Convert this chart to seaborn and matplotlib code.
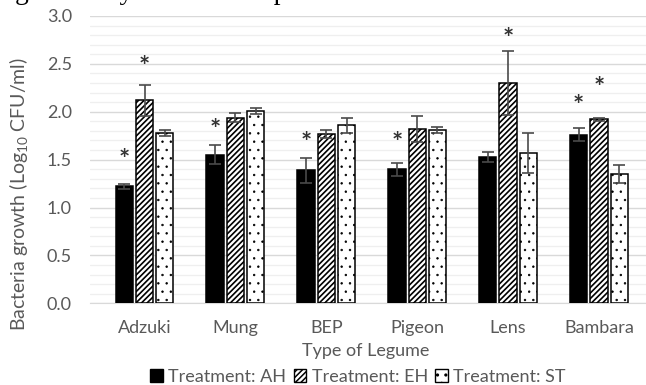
import matplotlib.pyplot as plt
import matplotlib as mpl
import numpy as np
import pandas as pd
import seaborn as sns
from matplotlib.patches import Patch

legumes = ['Adzuki', 'Mung', 'BEP', 'Pigeon', 'Lens', 'Bambara']
treatments = ['Treatment: AH', 'Treatment: EH', 'Treatment: ST']

# mean growth (log10 CFU/ml) per legume
ah = [1.22, 1.55, 1.39, 1.40, 1.53, 1.76]
eh = [2.12, 1.94, 1.77, 1.82, 2.30, 1.92]
st = [1.78, 2.01, 1.86, 1.81, 1.57, 1.35]

# error bar half widths
ah_err = [0.03, 0.10, 0.13, 0.07, 0.05, 0.07]
eh_err = [0.16, 0.05, 0.04, 0.14, 0.33, 0.02]
st_err = [0.03, 0.03, 0.08, 0.03, 0.21, 0.09]

# asterisk heights (None = no asterisk)
ah_star = [1.50, 1.81, 1.67, 1.67, None, 2.06]
eh_star = [2.47, None, None, None, 2.76, 2.25]
st_star = [None, None, None, None, None, None]

df = pd.DataFrame({
    'legume': legumes * 3,
    'treatment': [t for t in treatments for _ in legumes],
    'growth': ah + eh + st,
})

sns.set_style('white')
plt.rcParams['font.family'] = ['Lato', 'DejaVu Sans']
plt.rcParams['mathtext.default'] = 'regular'
plt.rcParams['hatch.linewidth'] = 1.1

W, H = 646, 385
fig = plt.figure(figsize=(W / 100, H / 100), dpi=100)
ax = fig.add_axes([90 / W, (H - 303.3) / H, 563.5 / W, 287.3 / H])

sns.barplot(data=df, x='legume', y='growth', hue='treatment', order=legumes,
            hue_order=treatments, palette=['black', 'white', 'white'],
            width=0.67, gap=0.15, errorbar=None, legend=False,
            edgecolor='black', linewidth=1.1, ax=ax, zorder=3)

hatches = ['', '//////', '..']
hatch_lw = [1.0, 1.2, 0.5]
errs = [ah_err, eh_err, st_err]
stars = [ah_star, eh_star, st_star]
bars = ax.patches
n = len(legumes)
for k in range(len(treatments)):
    for i in range(n):
        b = bars[k * n + i]
        b.set_hatch(hatches[k])
        if hasattr(b, 'set_hatch_linewidth'):
            b.set_hatch_linewidth(hatch_lw[k])
        xc = b.get_x() + b.get_width() / 2
        ax.errorbar(xc, b.get_height(), yerr=errs[k][i], color='#4a4a4a',
                    elinewidth=1.2, capsize=4.5, capthick=1.2, zorder=4)
        if stars[k][i] is not None:
            ax.text(xc, stars[k][i], '*', ha='center', va='center',
                    fontsize=19, fontweight='bold', color='#333333', zorder=5)

ax.set_ylim(0, 3.0)
ax.set_yticks(np.arange(0, 3.01, 0.5))
ax.set_yticks(np.arange(0, 3.01, 0.1), minor=True)
ax.set_yticklabels([f'{v:.1f}' for v in np.arange(0, 3.01, 0.5)])
ax.grid(axis='y', which='major', color='#d9d9d9', linewidth=1.0, zorder=0)
ax.grid(axis='y', which='minor', color='#efefef', linewidth=0.9, zorder=0)
ax.set_axisbelow(True)
for s in ['top', 'right', 'left']:
    ax.spines[s].set_visible(False)
ax.spines['bottom'].set_color('#d9d9d9')
ax.tick_params(axis='both', which='both', length=0, labelsize=13,
               labelcolor='#595959')
ax.tick_params(axis='x', pad=12)
ax.tick_params(axis='y', pad=13)

ax.set_xlabel('Type of Legume', fontsize=13, color='#595959')
ax.xaxis.set_label_coords((366 - 90) / 563.5, -(356 - 303.3) / 287.3)
ax.xaxis.label.set_va('baseline')
ax.set_ylabel('')
fig.text(19 / W, 1 - 194 / H, 'Bacteria growth (Log$_{10}$ CFU/ml)',
         rotation=90, ha='center', va='center', fontsize=14, color='#595959')

handles = [Patch(facecolor=c, edgecolor='black', hatch=h, label=t)
           for c, h, t in zip(['black', 'white', 'white'], hatches, treatments)]
fig.legend(handles=handles, loc='center', bbox_to_anchor=(358 / W, 1 - 377 / H),
           ncol=3, frameon=False, fontsize=13, labelcolor='#595959',
           handlelength=0.7, handleheight=0.7, handletextpad=0.3,
           columnspacing=0.4, borderpad=0)

fig.text(-3 / W, 1 + 1 / H,
         'significantly reduced the pH of the nutrient broth which makes it',
         family='Liberation Serif', fontsize=19.6, color='black',
         ha='left', va='baseline')

fig.savefig('out.png', dpi=100)
